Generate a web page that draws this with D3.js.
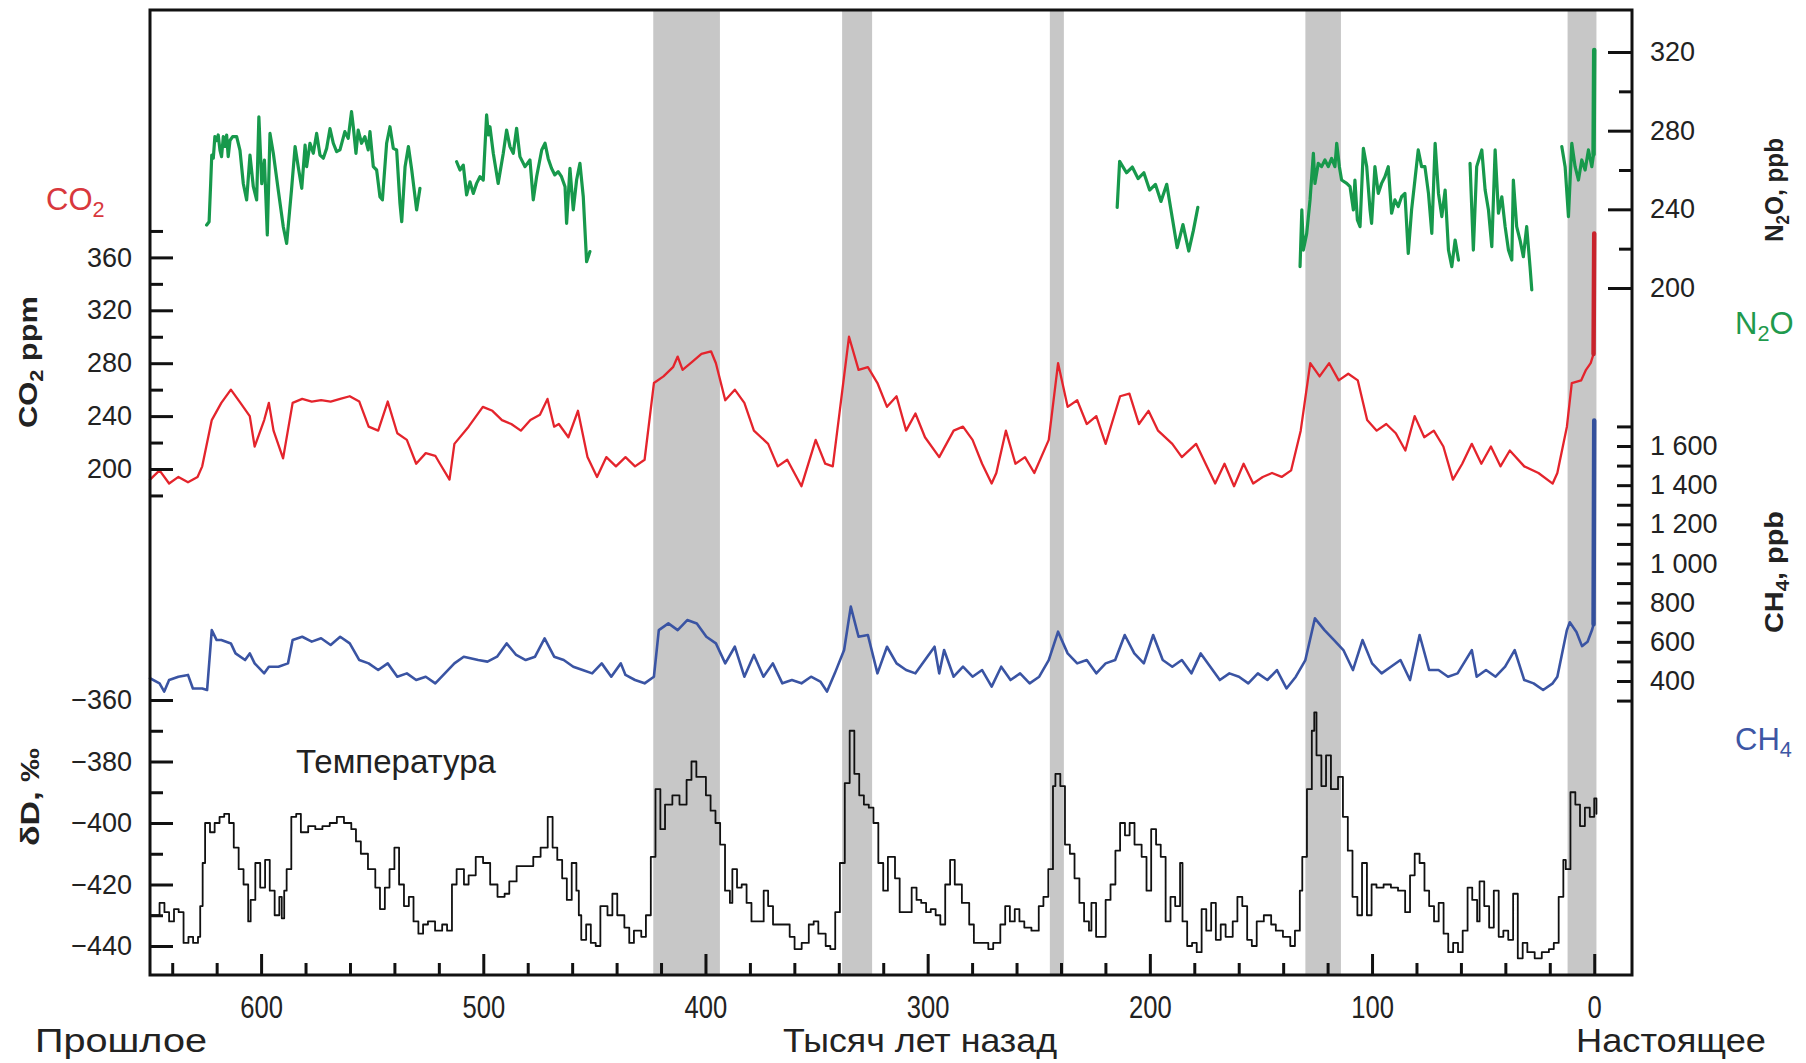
<!DOCTYPE html>
<html><head><meta charset="utf-8">
<script src="https://cdn.jsdelivr.net/npm/d3@7"></script>
<style>body{margin:0;background:#fff}svg{display:block}</style>
</head><body>
<svg id="chart" width="1806" height="1063"></svg>
<script>
// ---------- DATA (ages in thousand years before present) ----------
const bandStart = [423.5, 338.5, 245, 130, 12];
const bandEnd   = [393.5, 325, 238.7, 114, -1];

const xMajorTicks = [600, 500, 400, 300, 200, 100, 0];
const co2MajorTicks = [200, 240, 280, 320, 360];
const co2MinorTicks = [180, 220, 260, 300, 340, 380];
const dMajorTicks = [-360, -380, -400, -420, -440];
const dMinorTicks = [-370, -390, -410, -430];
const n2oMajorTicks = [200, 240, 280, 320];
const n2oMinorTicks = [220, 260, 300];
const ch4Ticks = [300,400,500,600,700,800,900,1000,1100,1200,1300,1400,1500,1600,1700];
const ch4Labels = [400, 600, 800, 1000, 1200, 1400, 1600];

const tempAge = [650,645.7,643.5,641.4,639.2,637.1,634.9,632.7,630.6,628.4,627.4,626.3,625.2,623,620.9,618.7,616.6,614.4,612.3,610.1,607.9,605.8,604.7,602.6,600.4,598.2,596.1,593.9,591.8,590.7,589.6,588.5,586.4,584.2,582.1,578.8,575.6,572.4,569.1,565.9,562.7,559.4,557.3,555.1,551.9,548.6,546.5,544.3,542.2,540,537.9,535.7,533.5,531.4,529.2,527.1,524.9,521.7,518.5,516.3,514.1,512,508.7,506.6,503.4,500.1,496.9,493.6,490.4,488.3,485,481.8,477.5,474.2,471,468.8,466.7,464.5,462.4,460.2,458.1,457,455.9,453.7,451.6,449.4,447.3,444.1,441.9,439.7,436.5,434.3,432.2,428.9,426.8,424.6,422.5,420.3,418.2,414.9,411.7,408.5,406.3,404.1,402,399.8,397.7,395.5,393.4,391.2,389,387.9,385.8,383.7,381.5,379.3,376.1,373.8,371.8,369.6,365.3,362.1,359.9,356.7,353.5,351.3,349.2,345.9,343.8,341.6,339.5,337.3,335.1,334.1,333,330.8,328.7,326.5,324.4,322.2,320,317.9,
314.7,312.6,310.4,307.2,305,302.9,300.7,298.6,296.4,294.3,292.1,289.9,287.8,284.6,281.3,279.2,275.9,272.7,270.5,267.3,265.1,263,260.8,258.7,256.5,253.3,250,247.9,245.7,243.6,242.5,241.4,240.3,238.2,236,233.9,231.7,229.6,227.4,226.3,224.2,222,219.9,217.7,215.5,213.4,211.2,209.1,206.9,203.7,201.5,199.4,197.2,195.1,192.9,190.7,188.6,186.4,185.3,183.2,181,178.9,176.7,174.6,172.4,170.3,168.1,165.9,162.7,160.6,158.4,156.2,154.1,151.9,148.7,145.4,143.3,140.1,136.8,134.7,132.5,131.4,129.3,127.1,126,125,122.8,120.7,118.5,115.3,113.1,110.9,108.8,106.6,104.5,102.3,100.2,98,94.8,91.5,88.3,85.1,82.9,80.8,78.6,76.4,74.3,72.1,70,67.8,65.7,63.5,61.3,59.2,57,54.9,52.7,51.6,49.5,47.3,45.2,43,40.9,38.7,36.5,34.4,32.2,30.1,26.8,23.6,20.4,18.2,16,13.9,12.8,10.7,8.5,6.4,4.2,2,0,-1];
const tempD = [-430,-426,-429,-432,-428,-429,-439,-437,-439,-437,-427,-413,-400,-403,-400,-398,-397,-400,-408,-415,-420,-432,-425,-413,-421,-412,-422,-430,-424,-431,-422,-415,-398,-397,-403,-401,-402,-401,-400,-398,-400,-402,-406,-410,-415,-421,-428,-421,-415,-408,-420,-427,-424,-432,-436,-433,-432,-435,-433,-435,-420,-415,-420,-417,-411,-413,-420,-424,-423,-419,-414,-414,-411,-408,-398,-408,-412,-418,-425,-413,-422,-430,-438,-433,-439,-440,-427,-430,-423,-430,-434,-439,-435,-437,-430,-411,-389,-402,-394,-391,-394,-386,-380,-385,-385,-391,-396,-400,-407,-422,-426,-415,-421,-420,-426,-432,-432,-422,-427,-433,-433,-437,-441,-439,-433,-432,-436,-440,-441,-429,-413,-387,-370,-370,-384,-391,-394,-395,-400,-413,-422,-411,
-418,-429,-429,-421,-425,-426,-429,-428,-430,-433,-420,-412,-420,-426,-433,-439,-439,-441,-439,-433,-427,-432,-428,-432,-434,-435,-427,-424,-415,-388,-384,-384,-388,-407,-410,-418,-426,-432,-435,-426,-437,-437,-425,-420,-409,-400,-404,-400,-407,-411,-422,-402,-407,-411,-432,-424,-427,-413,-432,-440,-439,-442,-428,-435,-426,-438,-433,-437,-432,-424,-427,-438,-440,-432,-430,-433,-435,-437,-440,-435,-422,-411,-389,-370,-364,-378,-388,-378,-389,-385,-398,-409,-424,-430,-413,-430,-420,-421,-420,-421,-422,-429,-417,-410,-413,-422,-427,-432,-426,-436,-442,-439,-442,-435,-421,-425,-432,-419,-427,-434,-422,-437,-435,-438,-423,-444,-439,-442,-444,-442,-441,-439,-424,-412,-415,-390,-394,-401,-395,-398,-392,-397];

const co2Age = [650,645.7,641.4,637.2,632.9,628.6,626.5,622.2,617.9,613.6,609.3,605.1,602.9,598.6,596.5,594.4,590.1,585.8,581.5,577.2,573,568.7,564.4,560.1,555.8,551.6,547.3,543,538.7,534.4,530.2,525.9,521.6,519.5,515.2,513,506.6,500.2,495.9,491.6,487.4,483.1,478.8,474.5,471.1,468.1,466,461.7,457.4,453.1,448.8,444.6,440.3,436,431.7,427.4,423.2,418.9,414.6,412.5,410.3,406,401.8,397.5,395.3,391.1,386.8,382.5,378.2,371.8,367.5,363.2,356.8,350.4,346.1,342.7,339.7,335.4,331.1,326.9,322.6,318.3,314,309.7,305.5,301.2,294.8,288.3,284.1,279.8,275.5,271.2,269.1,264.8,260.5,256.2,252,245.5,241.3,237,232.7,228.4,224.1,219.9,213.4,209.2,204.9,200.6,196.3,189.9,185.6,179.2,174.9,170.6,166.4,162.1,157.8,153.5,149.2,145,140.7,136.4,132.1,127.8,123.6,119.3,115,110.7,106.4,102.2,97.9,93.6,89.3,85,80.8,76.5,72.2,67.9,63.6,59.4,55.1,50.8,46.5,42.2,38,31.5,25.1,18.7,16.6,12.3,10.1,5.9,3.7,1.6,0.3];
const co2Ppm = [192,199,189,194,190,194,202,237,250,260,250,240,217,237,250,229,208,250,253,251,252,251,253,255,251,232,229,251,227,222,204,212,210,204,192,219,232,247,244,237,234,229,237,241,253,232,234,224,244,209,194,209,202,209,202,207,265,270,277,285,275,281,287,289,280,252,260,250,229,219,202,207,187,222,204,202,242,300,275,277,265,247,255,229,242,224,209,229,232,222,204,189,197,229,204,209,197,222,280,247,252,234,240,219,255,257,234,244,229,219,209,219,204,189,204,187,204,189,194,197,194,199,229,280,270,280,267,272,267,237,229,234,227,214,240,224,229,217,192,204,219,204,217,202,214,202,197,189,197,232,265,267,275,280,287];
const co2ModernAge = [0.3, 0];
const co2ModernPpm = [287, 378];

const ch4Age = [650,645.7,643.6,641.4,637.2,632.9,630.7,626.5,624.3,622.2,620,617.9,613.6,611.5,607.2,605.1,602.9,598.6,596.5,592.2,587.9,585.8,581.5,577.2,573,568.7,564.4,560.1,555.8,551.6,547.3,543,538.7,534.4,530.2,525.9,521.6,517.3,513,508.8,502.3,498.1,493.8,489.5,485.2,480.9,476.7,472.4,468.1,463.8,459.5,455.3,451,446.7,442.4,438.1,436,431.7,427.4,423.2,421,416.7,412.5,408.2,403.9,399.6,395.3,391.1,386.8,382.5,378.2,373.9,369.7,365.4,361.1,356.8,352.5,348.3,345.3,341.8,337.6,334.6,331.1,326.9,322.6,318.3,314,309.7,305.5,301.2,296.9,294.8,292.6,288.3,284.1,279.8,275.5,271.2,266.9,262.7,258.4,254.1,249.8,245.5,241.3,237,232.7,228.4,224.1,219.9,215.6,211.3,207,202.7,198.5,194.2,189.9,185.6,181.3,177.1,172.8,168.5,164.2,159.9,155.7,151.4,147.1,142.8,138.5,134.3,130,125.7,121.4,117.1,112.9,108.6,104.3,100,95.7,91.5,87.2,82.9,78.6,74.3,70.1,65.8,61.5,55.1,52.9,48.7,44.4,40.1,35.8,31.5,27.3,23,18.7,16.6,12.3,11,8,5.5,3,1,0.3];
const ch4Ppb = [414,388,346,405,422,431,362,362,354,660,609,609,592,541,507,541,490,439,473,473,490,609,626,601,618,584,626,592,507,490,456,490,422,439,405,422,388,439,490,524,507,499,524,592,533,507,524,618,524,507,473,456,439,490,422,490,431,405,388,422,660,694,660,711,694,626,592,490,575,422,533,422,490,388,405,388,422,397,346,439,558,780,626,635,439,575,490,456,439,507,575,439,558,422,473,422,456,371,473,405,439,388,422,507,652,541,490,507,439,490,507,635,541,490,635,507,473,507,439,541,473,405,439,422,388,439,405,456,362,422,507,720,660,609,558,456,609,490,439,473,507,405,635,456,456,422,439,558,422,456,422,473,558,405,388,354,388,422,660,700,650,578,600,660,690];
const ch4ModernAge = [0.3, 0];
const ch4ModernPpb = [690, 1730];

// N2O: null marks a gap between measured sections
const n2oAge = [624.5,623.4,622.7,622.2,621.5,620.8,620,619.3,618.5,617.8,617,616.3,615.5,614.8,614,612.8,611,609.5,608,606.5,605,603.5,602,601,599.7,598.5,597.2,596,594.5,592.3,590,588.5,586.3,584.7,583.3,581.7,580.2,579.5,578,576.5,575,573.5,572,570.5,569,567.5,566,564.5,562.3,560.8,559.3,558.5,557.3,556.3,554.8,553.3,551.8,551,549.5,548,546.5,545.4,543.5,542,540.5,539,537.5,536.7,535.2,533.7,532.2,530,528.5,
 520,
 512,510.5,509,507.5,506,504.5,503,501.5,500,498.5,497.7,497,495.5,493.3,491,489.5,488,486.5,485,483.5,481.2,479,477.5,476,473.7,472.2,470.8,469.3,467.8,466.3,464.8,463.2,462.5,461,459.5,458,456.5,455,453.5,452,
 300,
 214.7,213.6,210.5,207.9,205.3,202.7,200.1,197.5,195,192.4,189.8,187.7,185.1,182.5,180.4,178.4,
 150,
 132.4,131.6,130.9,129.4,127.9,126.4,125.7,124.2,122.7,121.2,119.7,118.2,116.7,115.9,114.7,113.7,111.4,109.9,108.4,107.7,106.6,105.4,103.9,102.4,100.9,100.2,98.7,97.2,95.7,94.2,92.7,91.2,89.7,88.2,86.7,85.2,83.7,82.2,80.7,79.2,77.7,76.2,74.6,73.1,71.6,70.1,68.6,67.1,65.6,64.1,62.6,61.1,
 58,
 55.9,54.4,52.9,50.6,49.1,47.6,46.1,44.6,43.1,41.6,40.1,38.6,37.1,36.4,34.9,33.4,31.9,30.4,28.9,28.1,
 20,
 14.6,13.1,11.6,10.1,8.6,7.1,5.6,4.1,2.6,1.1,0.3];
const n2oPpb = [232,233.7,253,267.6,266,277,275,277.8,270,266.8,277,272,277.8,266.8,275,277,277,270,253,244.8,267.6,251.5,244.8,287,253,265,227,278.6,268.5,250,231,222.7,250,271.9,261.7,250.7,272.7,261.7,273.6,268.5,278.6,267.6,266,271,281,273.6,269.3,270.2,279.5,276.1,289.7,282,268.5,280.3,273.6,276.9,270.2,279.5,261.7,260,246.4,244.8,273.6,282,271,270.2,243,233.7,261.7,271.9,260,239.7,250.7,
 null,
 264.2,260,262.5,247.3,254,248.1,253.2,256.6,254.9,288,277.8,282,268.5,253.2,268.5,280.3,271.9,268.5,281.2,266.8,261.7,265.1,244.8,256.6,270.2,273.6,265.9,260.9,257.5,259.2,256.6,251.5,232.9,260.9,239.7,254.9,263.4,246.4,213.4,218.5,
 null,
 241,264.4,258.6,261.5,255.6,258.6,249.8,252.7,244,252.7,235,220.5,232.2,218.8,229.3,241,
 null,
 210.9,239.7,219.3,227.8,244.8,268.5,253.2,263.4,261.7,265.1,261.7,265.9,261.7,273.6,261.7,254.9,253.2,251.5,239.7,254.9,234.6,231.2,271,261.7,239.7,232.9,261.7,248.1,253.2,256.6,261.7,238,244.8,241.4,246.4,248.1,217.6,239.7,254.9,270.2,261.7,261.7,248.1,227.8,273.6,248.1,236.3,249.8,219.3,210.9,224.4,214.2,
 null,
 263.4,219.3,261.7,270.2,249.8,239.7,221,270.2,238,246.4,231.2,219.3,214.2,254.9,231.2,224.4,215.9,231.2,210.9,199,
 null,
 271.9,261.7,236.3,273.6,261.7,254.9,265.1,260,270.2,261.7,268];
const n2oModernAge = [0.3, 0];
const n2oModernPpb = [268, 321];

// ---------- CHART ----------
const svg = d3.select("#chart");
const L = 150, R = 1632, T = 10, B = 975;
const SANS = "'Liberation Sans', Arial, Helvetica, sans-serif";
const NARROW = "'Liberation Sans Narrow', 'Liberation Sans', Arial, sans-serif";
const TXT = "#222";

const x = d3.scaleLinear().domain([650, -17]).range([L, R]);
const yCO2 = d3.scaleLinear().domain([200, 360]).range([469, 257.4]);
const yN2O = d3.scaleLinear().domain([200, 320]).range([288, 52]);
const yCH4 = d3.scaleLinear().domain([400, 1600]).range([681, 446]);
const yD = d3.scaleLinear().domain([-360, -440]).range([700, 946]);

const pairs = (a, v) => a.map((d, i) => [d, v[i]]);

// interglacial bands
svg.append("g").selectAll("rect")
  .data(bandStart.map((s, i) => [s, bandEnd[i]]))
  .join("rect")
  .attr("x", d => x(d[0])).attr("width", d => x(d[1]) - x(d[0]))
  .attr("y", T).attr("height", B - T)
  .attr("fill", "#c7c7c7");

function drawLine(data, yScale, color, width, curve) {
  svg.append("path")
    .datum(data)
    .attr("fill", "none")
    .attr("stroke", color)
    .attr("stroke-width", width)
    .attr("stroke-linejoin", "round")
    .attr("stroke-linecap", "round")
    .attr("d", d3.line().defined(d => d[1] != null)
      .x(d => x(d[0])).y(d => yScale(d[1])).curve(curve || d3.curveLinear));
}

drawLine(pairs(tempAge, tempD), yD, "#111", 1.8, d3.curveStepAfter);
drawLine(pairs(co2Age, co2Ppm), yCO2, "#e4242c", 2.3);
drawLine(pairs(co2ModernAge, co2ModernPpm), yCO2, "#c8232c", 4.5);
drawLine(pairs(ch4Age, ch4Ppb), yCH4, "#3a54a3", 2.6);
drawLine(pairs(ch4ModernAge, ch4ModernPpb), yCH4, "#34509c", 4.5);
drawLine(pairs(n2oAge, n2oPpb), yN2O, "#17994c", 3.2);
drawLine(pairs(n2oModernAge, n2oModernPpb), yN2O, "#17994c", 4.5);

// axes
function styleAxis(g, size, family) {
  g.select(".domain").remove();
  g.attr("font-family", family || SANS).attr("font-size", size || 27);
  g.selectAll(".tick line").attr("stroke", "#111").attr("stroke-width", 3);
  g.selectAll(".tick text").attr("fill", TXT);
}
const minus = d => "\u2212" + Math.abs(d);
const spaceFmt = d3.formatLocale({decimal: ".", thousands: " ", grouping: [3], currency: ["", ""]}).format(",");

svg.append("g").attr("transform", `translate(${L},0)`)
  .call(d3.axisLeft(yCO2).tickValues(co2MajorTicks).tickSize(-23).tickPadding(18)).call(styleAxis);
svg.append("g").attr("transform", `translate(${L},0)`)
  .call(d3.axisLeft(yCO2).tickValues(co2MinorTicks).tickSize(-13).tickFormat("")).call(styleAxis);
svg.append("g").attr("transform", `translate(${L},0)`)
  .call(d3.axisLeft(yD).tickValues(dMajorTicks).tickSize(-23).tickPadding(18).tickFormat(minus)).call(styleAxis);
svg.append("g").attr("transform", `translate(${L},0)`)
  .call(d3.axisLeft(yD).tickValues(dMinorTicks).tickSize(-13).tickFormat("")).call(styleAxis);
svg.append("g").attr("transform", `translate(${R},0)`)
  .call(d3.axisRight(yN2O).tickValues(n2oMajorTicks).tickSize(-24).tickPadding(18)).call(styleAxis);
svg.append("g").attr("transform", `translate(${R},0)`)
  .call(d3.axisRight(yN2O).tickValues(n2oMinorTicks).tickSize(-13).tickFormat("")).call(styleAxis);
svg.append("g").attr("transform", `translate(${R},0)`)
  .call(d3.axisRight(yCH4).tickValues(ch4Ticks).tickSize(-15).tickPadding(18)
    .tickFormat(d => ch4Labels.includes(d) ? spaceFmt(d) : "")).call(styleAxis);
svg.append("g").attr("transform", `translate(0,${B})`)
  .call(d3.axisBottom(x).tickValues(xMajorTicks).tickSize(-21).tickPadding(20))
  .call(g => {
    styleAxis(g, 32, NARROW);
    g.selectAll(".tick text").attr("transform", "scale(0.8,1)");
  });
svg.append("g").attr("transform", `translate(0,${B})`)
  .call(d3.axisBottom(x).tickValues(d3.range(20, 641, 20).filter(d => d % 100 !== 0)).tickSize(-12).tickFormat(""))
  .call(styleAxis);

// frame
svg.append("rect").attr("x", L).attr("y", T).attr("width", R - L).attr("height", B - T)
  .attr("fill", "none").attr("stroke", "#111").attr("stroke-width", 3);

// text helpers
function chemText(parts, opts) {
  const t = svg.append("text")
    .attr("font-family", opts.family || SANS)
    .attr("font-size", opts.size)
    .attr("font-weight", opts.weight || "normal")
    .attr("fill", opts.fill || TXT)
    .attr("text-anchor", opts.anchor || "start")
    .attr("transform", opts.transform);
  if (opts.len) t.attr("textLength", opts.len).attr("lengthAdjust", "spacingAndGlyphs");
  const fs = opts.size;
  let shifted = false;
  parts.forEach(p => {
    const sub = p.startsWith("_");
    const s = sub ? p.slice(1) : p;
    const ts = t.append("tspan").text(s);
    if (sub) { ts.attr("font-size", fs * 0.7).attr("dy", fs * 0.22); shifted = true; }
    else if (shifted) { ts.attr("dy", -fs * 0.22); shifted = false; }
  });
  return t;
}

chemText(["CO", "_2"], {size: 31, fill: "#d8383d", transform: "translate(46,210)"});
chemText(["N", "_2", "O"], {size: 31, fill: "#1f9a4d", transform: "translate(1735,334)"});
chemText(["CH", "_4"], {size: 31, fill: "#3d56a4", transform: "translate(1735,750)"});

chemText(["CO", "_2", " ppm"], {size: 25, weight: "bold", anchor: "middle", len: 132, transform: "translate(37,362) rotate(-90)"});
chemText(["\u03B4D, \u2030"], {size: 26, weight: "bold", anchor: "middle", len: 98, transform: "translate(39,797) rotate(-90)"});
chemText(["N", "_2", "O, ppb"], {size: 25, weight: "bold", anchor: "middle", len: 104, transform: "translate(1783,190) rotate(-90)"});
chemText(["CH", "_4", ", ppb"], {size: 25, weight: "bold", anchor: "middle", len: 122, transform: "translate(1783,572) rotate(-90)"});

svg.append("text").attr("x", 296).attr("y", 773)
  .attr("font-family", SANS).attr("font-size", 33).attr("fill", TXT).text("Температура");

const bottomTitles = [
  {t: "Прошлое", x: 35, a: "start", len: 172},
  {t: "Тысяч лет назад", x: 920, a: "middle", len: 274},
  {t: "Настоящее", x: 1576, a: "start", len: 190}
];
svg.append("g").selectAll("text").data(bottomTitles).join("text")
  .attr("x", d => d.x).attr("y", 1052)
  .attr("text-anchor", d => d.a)
  .attr("font-family", NARROW).attr("font-size", 34).attr("fill", TXT)
  .attr("textLength", d => d.len).attr("lengthAdjust", "spacingAndGlyphs")
  .text(d => d.t);
</script>
</body></html>
